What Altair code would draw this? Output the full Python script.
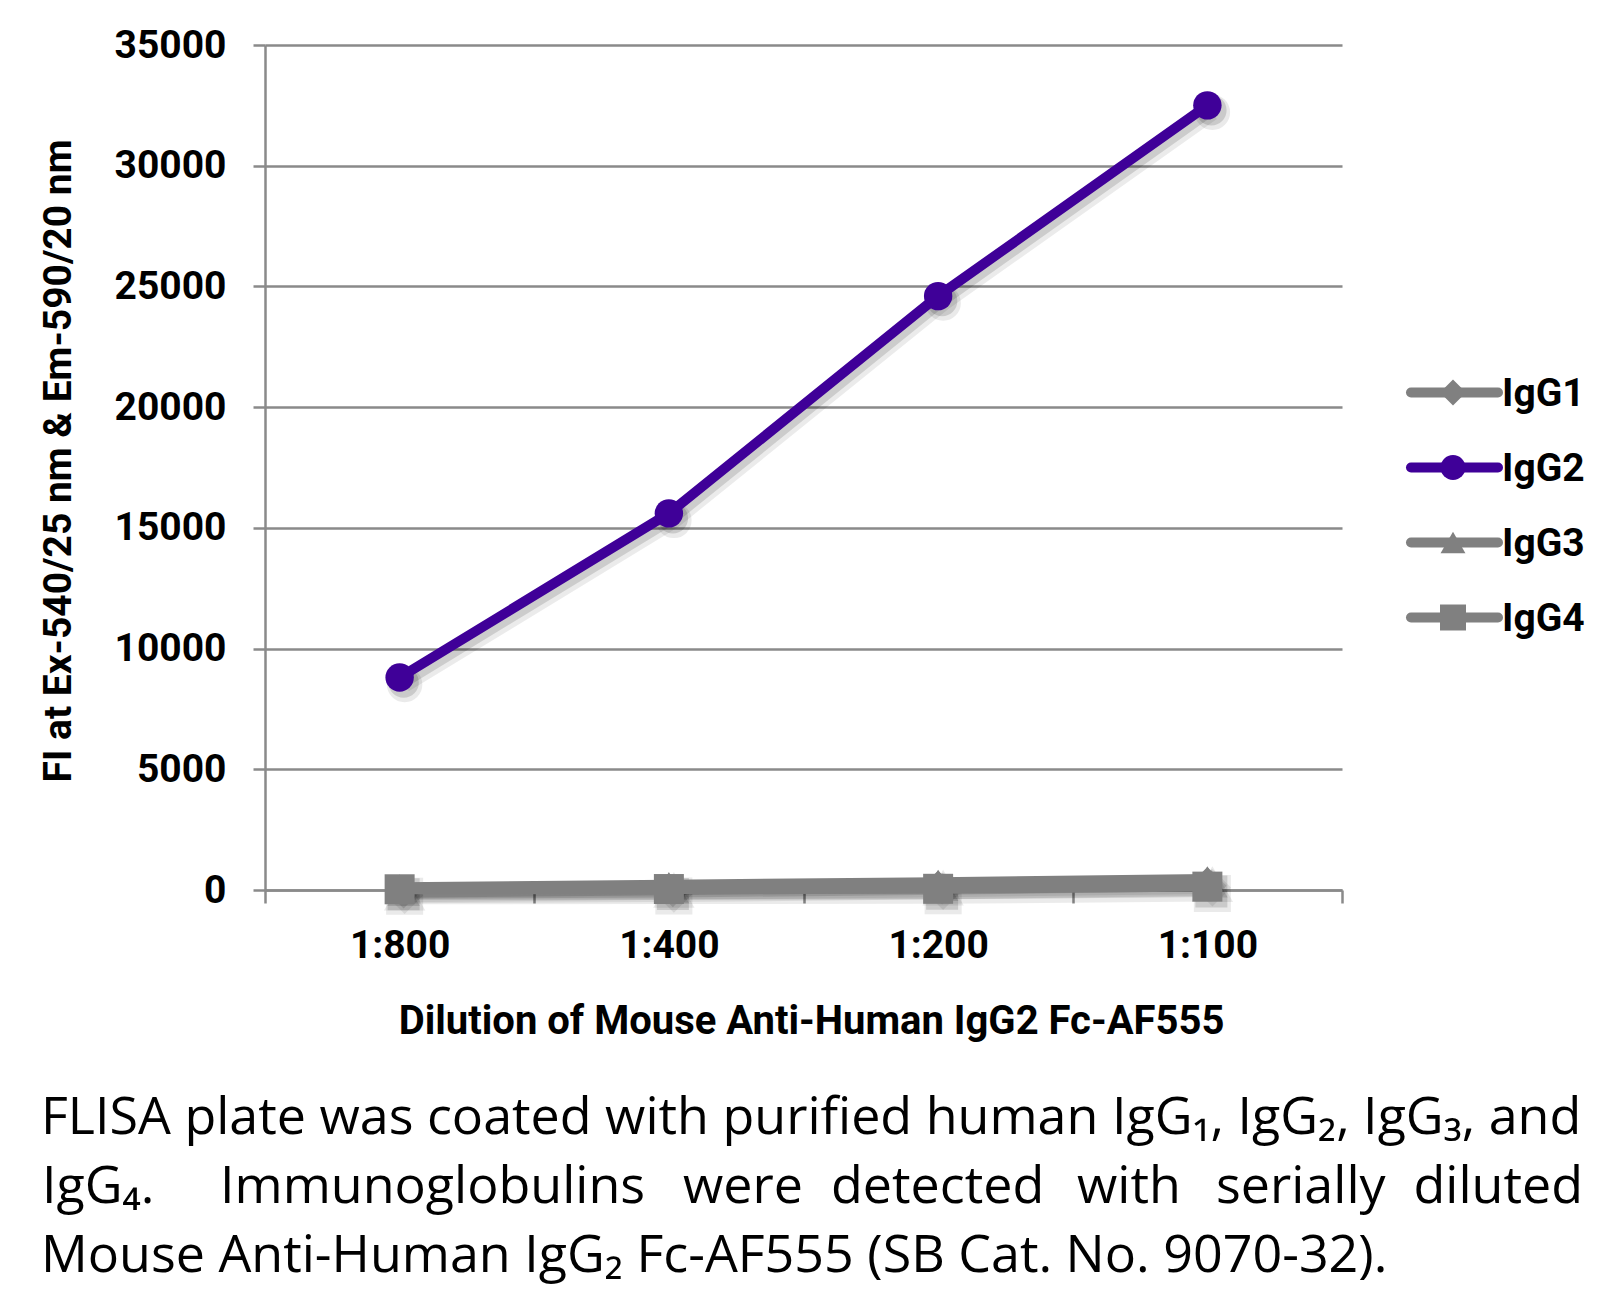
import altair as alt
import pandas as pd

# ---------------- data ----------------
categories = ["1:800", "1:400", "1:200", "1:100"]
series_names = ["IgG1", "IgG2", "IgG3", "IgG4"]
igg1 = [70, 120, 240, 380]
igg2 = [8800, 15600, 24600, 32500]
igg3 = [110, 220, 320, 460]
igg4 = [30, 40, 50, 140]
y_ticks = [0, 5000, 10000, 15000, 20000, 25000, 30000, 35000]

x_title = "Dilution of Mouse Anti-Human IgG2 Fc-AF555"
y_title = "FI at Ex-540/25 nm & Em-590/20 nm"
caption_line1 = "FLISA plate was coated with purified human IgG\u2081, IgG\u2082, IgG\u2083, and"
caption_line2_words = ["IgG\u2084.", "Immunoglobulins", "were", "detected", "with", "serially", "diluted"]
caption_line3 = "Mouse Anti-Human IgG\u2082 Fc-AF555 (SB Cat. No. 9070-32)."

# ---------------- styles ----------------
series_colors = ["#808080", "#3F0098", "#808080", "#808080"]
series_shapes = ["diamond", "circle", "triangle-up", "square"]
marker_sizes = [760, 900, 720, 1024]
legend_sizes = [680, 625, 620, 676]
draw_order = ["IgG1", "IgG3", "IgG4", "IgG2"]
GRID = "#8A8A8A"
BOLD = "Roboto"

values = {"IgG1": igg1, "IgG2": igg2, "IgG3": igg3, "IgG4": igg4}
rows = []
for s in draw_order:
    for c, v in zip(categories, values[s]):
        rows.append({"series": s, "dilution": c, "fi": v})
df = pd.DataFrame(rows)

W, H = 1077, 845
LEFT, TOP = 265, 45

x_enc = alt.X(
    "dilution:N",
    sort=categories,
    bandPosition=0.5,
    scale=alt.Scale(type="band", paddingInner=0, paddingOuter=0),
    axis=alt.Axis(
        title=x_title,
        titleFont=BOLD, titleFontSize=40, titleFontWeight="bold", titleColor="black",
        titleX=546, titleY=143, titleBaseline="alphabetic", titleAlign="center",
        labelFont=BOLD, labelFontSize=39, labelFontWeight="bold", labelColor="black",
        labelAngle=0, labelBaseline="alphabetic", labelPadding=54,
        tickBand="extent", tickSize=13, tickColor=GRID, tickWidth=2.5,
        domainColor=GRID, domainWidth=2.5, grid=False,
    ),
)
y_enc = alt.Y(
    "fi:Q",
    scale=alt.Scale(domain=[0, 35000], nice=False, zero=True),
    axis=alt.Axis(
        title=y_title,
        titleFont=BOLD, titleFontSize=39, titleFontWeight="bold", titleColor="black",
        titleX=-195, titleY=H / 2 - 7, titleAngle=-90, titleBaseline="alphabetic", titleAlign="center",
        values=y_ticks, format="d",
        labelFont=BOLD, labelFontSize=39, labelFontWeight="bold", labelColor="black",
        labelPadding=27, tickSize=12, tickColor=GRID, tickWidth=2.5,
        domainColor=GRID, domainWidth=2.5,
        grid=True, gridColor=GRID, gridWidth=2.5,
    ),
)
color_enc = alt.Color("series:N", scale=alt.Scale(domain=series_names, range=series_colors), legend=None)
shape_enc = alt.Shape("series:N", scale=alt.Scale(domain=series_names, range=series_shapes), legend=None)
size_enc = alt.Size("series:N", scale=alt.Scale(domain=series_names, range=marker_sizes), legend=None)

base = alt.Chart(df)

layers = []
# soft drop shadow (two passes to imitate blur)
for sw, op, ox, oy in [(16, 0.08, 5, 7), (11, 0.13, 4, 5)]:
    layers.append(base.mark_line(color="black", opacity=op, strokeWidth=sw, xOffset=ox, yOffset=oy).encode(
        x=x_enc, y=y_enc, detail="series:N"))
    layers.append(base.mark_point(filled=True, color="black", opacity=op, xOffset=ox, yOffset=oy,
                                  strokeWidth=sw - 9, stroke="black").encode(
        x=x_enc, y=y_enc, shape=shape_enc, size=size_enc))

lines = base.mark_line(strokeWidth=10).encode(x=x_enc, y=y_enc, color=color_enc, detail="series:N")
points = base.mark_point(filled=True, opacity=1).encode(
    x=x_enc, y=y_enc, color=color_enc, shape=shape_enc, size=size_enc
)
layers += [lines, points]

# ---------------- legend ----------------
for i, name in enumerate(series_names):
    ly = 347.5 + 75 * i
    one = alt.Chart(pd.DataFrame({"t": [name]}))
    layers.append(one.mark_rule(strokeWidth=10, strokeCap="round", color=series_colors[i]).encode(
        x=alt.value(1146), x2=alt.value(1233), y=alt.value(ly)))
    layers.append(one.mark_point(filled=True, opacity=1, shape=series_shapes[i], size=legend_sizes[i],
                                 color=series_colors[i]).encode(x=alt.value(1188), y=alt.value(ly)))
    layers.append(one.mark_text(align="left", baseline="middle", font=BOLD, fontSize=39, fontWeight="bold",
                                color="black").encode(x=alt.value(1237), y=alt.value(ly + 1), text="t:N"))

# ---------------- caption ----------------
CAP_FONT = "Open Sans"
CAP_SIZE = 52
layers.append(alt.Chart(pd.DataFrame({"t": [caption_line1]})).mark_text(
    align="left", baseline="alphabetic", font=CAP_FONT, fontSize=CAP_SIZE, color="black").encode(
    x=alt.value(41 - LEFT), y=alt.value(1134 - TOP), text="t:N"))
word_x = [42, 220, 683, 831, 1077, 1216, 1583]
for j, w in enumerate(caption_line2_words):
    last = j == len(caption_line2_words) - 1
    layers.append(alt.Chart(pd.DataFrame({"t": [w]})).mark_text(
        align="right" if last else "left", baseline="alphabetic", font=CAP_FONT, fontSize=CAP_SIZE,
        color="black").encode(x=alt.value(word_x[j] - LEFT), y=alt.value(1203 - TOP), text="t:N"))
layers.append(alt.Chart(pd.DataFrame({"t": [caption_line3]})).mark_text(
    align="left", baseline="alphabetic", font=CAP_FONT, fontSize=CAP_SIZE, color="black").encode(
    x=alt.value(41 - LEFT), y=alt.value(1272 - TOP), text="t:N"))

chart = alt.layer(*layers).properties(
    width=W, height=H,
    autosize=alt.AutoSizeParams(type="none"),
    padding={"left": LEFT, "top": TOP, "right": 1620 - LEFT - W, "bottom": 1306 - TOP - H},
    background="white",
).configure_view(strokeWidth=0)

chart.save("out.html", embed_options={"renderer": "svg", "actions": False})
